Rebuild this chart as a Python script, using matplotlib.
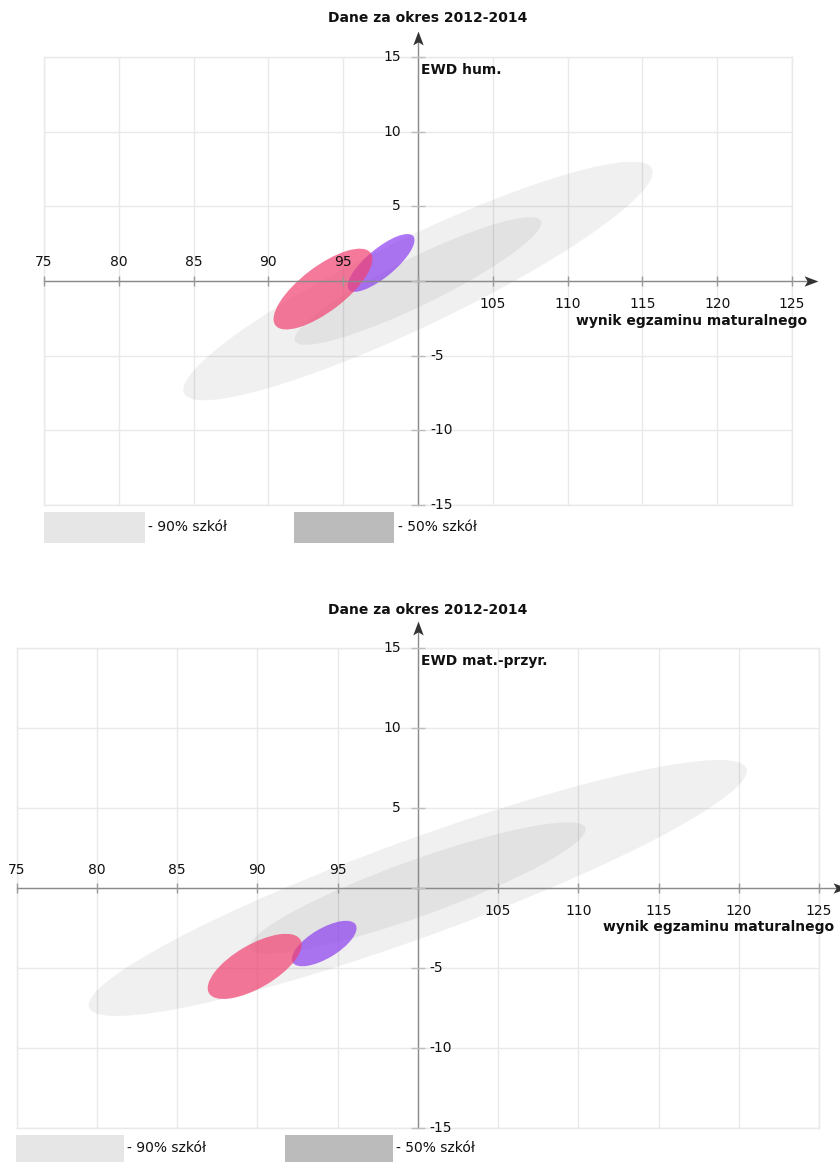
import matplotlib
matplotlib.use("Agg")
import matplotlib.pyplot as plt
from matplotlib.patches import Ellipse, Rectangle
from matplotlib.path import Path

# ---------------- data ----------------
x_ticks = [75, 80, 85, 90, 95, 100, 105, 110, 115, 120, 125]
y_ticks = [-15, -10, -5, 0, 5, 10, 15]
title_text = "Dane za okres 2012-2014"
x_label = "wynik egzaminu maturalnego"
panel_names = ["EWD hum.", "EWD mat.-przyr."]
legend_labels = ["- 90% szkół", "- 50% szkół"]

# ellipse order: 90% schools, 50% schools, pink school, purple school
hum_cx = [100.0, 100.0, 93.65, 97.53]
hum_cy = [0.0, 0.0, -0.54, 1.21]
hum_w = [34.7, 18.3, 8.0, 5.6]
hum_h = [5.94, 3.2, 3.0, 1.9]
hum_ang = [25.7, 26.1, 37.4, 39.8]

mat_cx = [100.0, 100.0, 89.84, 94.17]
mat_cy = [0.0, 0.0, -4.9, -3.47]
mat_w = [43.6, 22.2, 6.6, 4.58]
mat_h = [6.08, 3.5, 2.7, 1.85]
mat_ang = [20.05, 19.8, 30.4, 31.0]

# ---------------- figure ----------------
W, H = 840, 1162
fig = plt.figure(figsize=(W / 100, H / 100), dpi=100)
plt.rcParams["font.family"] = ["DejaVu Sans"]


def fx(px):
    return px / W


def fy(py):
    return 1 - py / H


PT = 0.72  # px -> points at 100 dpi

panels = [
    dict(box=(44, 57, 792, 505), name=panel_names[0],
         cx=hum_cx, cy=hum_cy, w=hum_w, h=hum_h, ang=hum_ang,
         leg=[(44, 512, 145, 543), (294, 512, 394, 543)], legy=527),
    dict(box=(16.5, 648, 819, 1128), name=panel_names[1],
         cx=mat_cx, cy=mat_cy, w=mat_w, h=mat_h, ang=mat_ang,
         leg=[(16, 1135, 124, 1170), (285, 1135, 393, 1170)], legy=1148),
]

ell_colors = ["#000000", "#000000", "#f14170", "#8c3ef1"]
ell_alpha = [0.06, 0.055, 0.7, 0.7]
draw_order = [0, 1, 3, 2]
grid_c = "#e9e9e9"
axis_c = "#8a8a8a"
txt_c = "#111111"

# stealth-like arrow heads
arrow_right = Path([(1.0, 0.0), (-1.0, 0.75), (-0.55, 0.0), (-1.0, -0.75), (1.0, 0.0)],
                   [Path.MOVETO, Path.LINETO, Path.LINETO, Path.LINETO, Path.CLOSEPOLY])
arrow_up = Path([(0.0, 1.0), (0.75, -1.0), (0.0, -0.55), (-0.75, -1.0), (0.0, 1.0)],
                [Path.MOVETO, Path.LINETO, Path.LINETO, Path.LINETO, Path.CLOSEPOLY])

for p in panels:
    l, t, r, b = p["box"]
    ax = fig.add_axes([fx(l), fy(b), (r - l) / W, (b - t) / H])
    ax.set_xlim(75, 125)
    ax.set_ylim(-15, 15)
    ax.set_xticks(x_ticks)
    ax.set_yticks(y_ticks)
    ax.grid(True, color=grid_c, lw=1)
    ax.set_axisbelow(True)
    ax.tick_params(length=0, labelbottom=False, labelleft=False)
    for s in ax.spines.values():
        s.set_color(grid_c)
        s.set_linewidth(1)

    for i in draw_order:
        e = Ellipse((p["cx"][i], p["cy"][i]), p["w"][i], p["h"][i],
                    angle=p["ang"][i], facecolor=ell_colors[i],
                    alpha=ell_alpha[i], lw=0, zorder=2)
        ax.add_patch(e)

    # axis lines
    ax.plot([75, 126.2], [0, 0], color=axis_c, lw=1, clip_on=False, zorder=3)
    ax.plot([100, 100], [-15, 16.2], color=axis_c, lw=1, clip_on=False, zorder=3)
    ax.plot([126.3], [0], ls="none", marker=arrow_right, ms=10, color="#333333",
            mew=0, clip_on=False, zorder=4)
    ax.plot([100], [16.25], ls="none", marker=arrow_up, ms=10, color="#333333",
            mew=0, clip_on=False, zorder=4)

    # tick marks
    ax.plot(x_ticks, [0] * len(x_ticks), ls="none", marker="|", ms=7.5,
            mew=1, color="#9a9a9a", clip_on=False, zorder=3)
    ax.plot([100] * len(y_ticks), y_ticks, ls="none", marker="_", ms=10,
            mew=1, color="#bdbdbd", clip_on=False, zorder=3)

    # tick labels
    for xt in x_ticks:
        if xt < 100:
            ax.annotate(str(xt), xy=(xt, 0), xytext=(0, 18.5 * PT),
                        textcoords="offset points", ha="center", va="center",
                        fontsize=10, color=txt_c, annotation_clip=False)
        elif xt > 100:
            ax.annotate(str(xt), xy=(xt, 0), xytext=(0, -23 * PT),
                        textcoords="offset points", ha="center", va="center",
                        fontsize=10, color=txt_c, annotation_clip=False)
    for yt in y_ticks:
        if yt > 0:
            ax.annotate(str(yt), xy=(100, yt), xytext=(-17 * PT, 0),
                        textcoords="offset points", ha="right", va="center",
                        fontsize=10, color=txt_c, annotation_clip=False)
        elif yt < 0:
            ax.annotate(str(yt), xy=(100, yt), xytext=(12 * PT, 0),
                        textcoords="offset points", ha="left", va="center",
                        fontsize=10, color=txt_c, annotation_clip=False)

    # labels
    ax.annotate(x_label, xy=(125, 0), xytext=(15 * PT, -39.5 * PT),
                textcoords="offset points", ha="right", va="center",
                fontsize=10, fontweight="bold", color=txt_c,
                annotation_clip=False)
    ax.annotate(p["name"], xy=(100, 15), xytext=(3 * PT, -12.5 * PT),
                textcoords="offset points", ha="left", va="center",
                fontsize=10, fontweight="bold", color=txt_c,
                annotation_clip=False)
    ax.annotate(title_text, xy=(100, 15), xytext=(9.5 * PT, 38.5 * PT),
                textcoords="offset points", ha="center", va="center",
                fontsize=10, fontweight="bold", color=txt_c,
                annotation_clip=False)

    # legend
    leg_cols = ["#e6e6e6", "#bbbbbb"]
    for (x0, y0, x1, y1), col, lab in zip(p["leg"], leg_cols, legend_labels):
        fig.add_artist(Rectangle((fx(x0), fy(y1)), (x1 - x0) / W, (y1 - y0) / H,
                                 transform=fig.transFigure, facecolor=col,
                                 edgecolor="none"))
        fig.text(fx(x1 + 3.5), fy(p["legy"]), lab, ha="left", va="center",
                 fontsize=10, color=txt_c)

fig.savefig("out.png", dpi=100)
